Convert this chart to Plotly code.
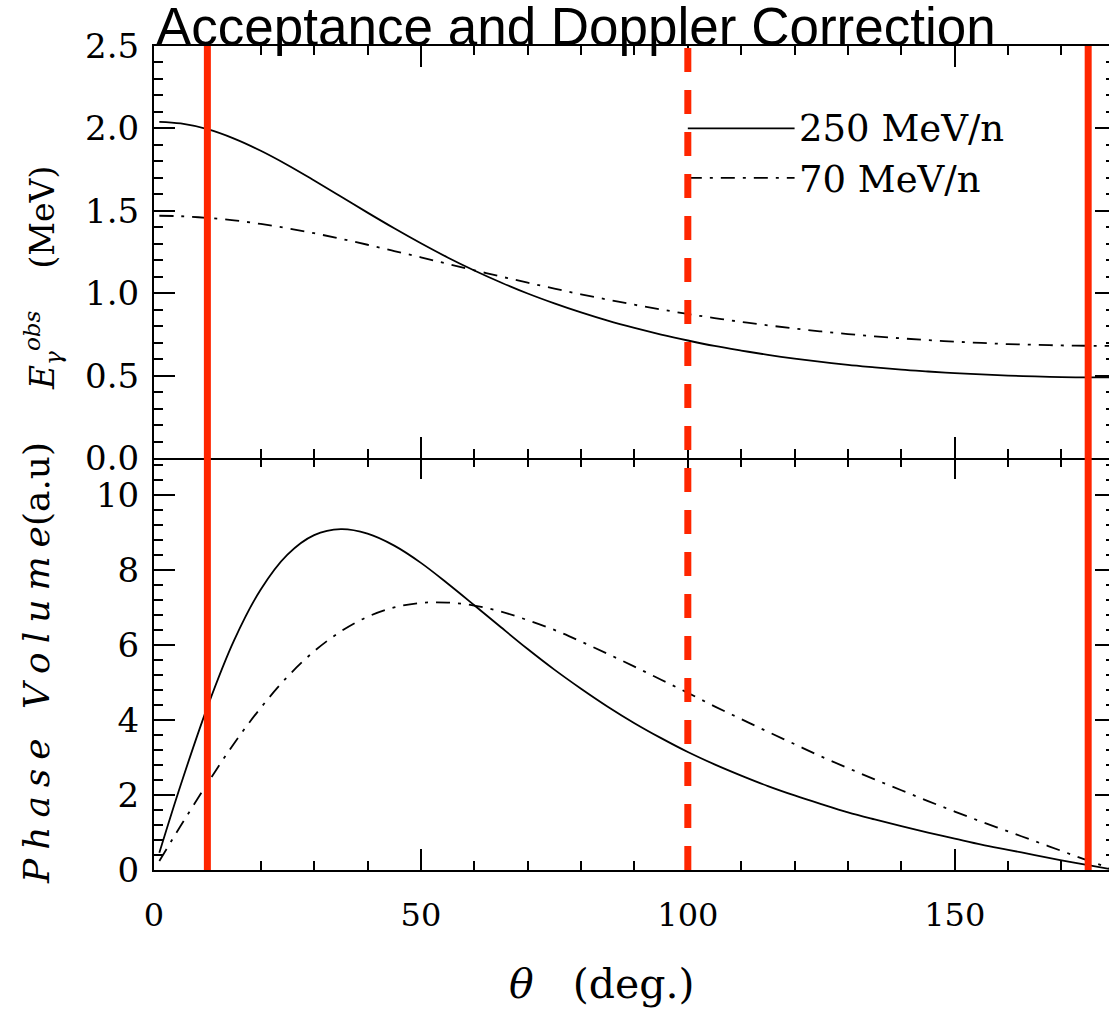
import plotly.graph_objects as go

# ---------------- data ----------------
theta = [1, 5, 10, 15, 20, 25, 30, 35, 40, 45, 50, 55, 60, 65, 70, 75, 80, 85, 90,
         95, 100, 105, 110, 115, 120, 125, 130, 135, 140, 145, 150, 155, 160, 165,
         170, 175, 180]

e_obs_250 = [2.04, 2.03, 1.995, 1.938, 1.864, 1.778, 1.684, 1.587, 1.489, 1.394, 1.303,
             1.217, 1.138, 1.065, 0.998, 0.938, 0.883, 0.833, 0.789, 0.749, 0.713, 0.680,
             0.652, 0.626, 0.603, 0.583, 0.565, 0.550, 0.536, 0.525, 0.515, 0.507, 0.500,
             0.495, 0.491, 0.489, 0.489]
e_obs_70 = [1.470, 1.467, 1.457, 1.442, 1.420, 1.394, 1.364, 1.330, 1.294, 1.256, 1.218,
            1.178, 1.139, 1.101, 1.064, 1.028, 0.993, 0.961, 0.930, 0.901, 0.874, 0.849,
            0.826, 0.805, 0.786, 0.768, 0.752, 0.738, 0.726, 0.715, 0.706, 0.698, 0.691,
            0.687, 0.683, 0.681, 0.680]

pv_250 = [0.46, 2.27, 4.35, 6.13, 7.49, 8.42, 8.94, 9.10, 8.98, 8.66, 8.20, 7.65, 7.07,
          6.48, 5.90, 5.35, 4.84, 4.36, 3.92, 3.52, 3.15, 2.82, 2.52, 2.24, 1.99, 1.76,
          1.54, 1.35, 1.17, 1.00, 0.84, 0.68, 0.54, 0.40, 0.26, 0.13, 0.0]
pv_70 = [0.24, 1.18, 2.31, 3.38, 4.33, 5.16, 5.84, 6.37, 6.76, 7.01, 7.13, 7.14, 7.06,
         6.90, 6.67, 6.41, 6.10, 5.77, 5.43, 5.08, 4.73, 4.37, 4.03, 3.69, 3.36, 3.03,
         2.72, 2.42, 2.13, 1.84, 1.56, 1.29, 1.03, 0.77, 0.51, 0.25, 0.0]

series_names = ["250 MeV/n", "70 MeV/n"]
legend_y = [2.0, 1.70]
legend_x = [100, 120.5]

acceptance_lines = [10, 100, 175]
acceptance_dash = ["solid", "24px,18px", "solid"]

x_ticks = [0, 50, 100, 150]
title_text = "Acceptance and Doppler Correction"

# ---------------- styling ----------------
SERIF = "DejaVu Serif"
RED = "rgb(255,38,0)"
DASHDOT = "14px,8px,3px,8px"
LW = 1.8
series_dash = ["solid", DASHDOT]

W, H = 1109, 1011
ML, MR, MT, MB = 154, 0, 46, 141
XMAX = 178.9
PLOT_BOTTOM = H - MB

fig = go.Figure()

top_vals = [e_obs_250, e_obs_70]
bot_vals = [pv_250, pv_70]
for i in range(2):
    fig.add_trace(go.Scatter(x=theta, y=top_vals[i], mode="lines", xaxis="x", yaxis="y",
                             line=dict(color="black", width=LW, dash=series_dash[i],
                                       shape="spline"),
                             showlegend=False, hoverinfo="skip"))
    fig.add_trace(go.Scatter(x=theta, y=bot_vals[i], mode="lines", xaxis="x2", yaxis="y2",
                             line=dict(color="black", width=LW, dash=series_dash[i],
                                       shape="spline"),
                             showlegend=False, hoverinfo="skip"))

x_minor = dict(dtick=10, tick0=0, ticks="inside", ticklen=9, tickwidth=1.5,
               tickcolor="black", showgrid=False)
common_x = dict(range=[0, XMAX], linecolor="black", linewidth=2,
                ticks="inside", ticklen=21, tickwidth=1.5, tickcolor="black",
                tickvals=x_ticks, showgrid=False, zeroline=False, minor=x_minor)

common_y = dict(showline=True, linecolor="black", linewidth=2, ticks="inside",
                ticklen=21, tickwidth=1.5, tickcolor="black", showgrid=False,
                zeroline=False, mirror=False,
                tickfont=dict(family=SERIF, size=34, color="black"),
                ticklabelstandoff=6)

right_y = dict(showline=False, ticks="inside", ticklen=14, tickwidth=1.5,
               tickcolor="black", showgrid=False, zeroline=False,
               showticklabels=False, side="right")

fig.update_layout(
    width=W, height=H,
    margin=dict(l=ML, r=MR, t=MT, b=MB),
    paper_bgcolor="white", plot_bgcolor="white",
    showlegend=False,
    # top panel: line at its bottom (middle line) and mirrored top frame
    xaxis=dict(domain=[0, 1], anchor="y", showticklabels=False, showline=True,
               mirror="ticks", **common_x),
    # bottom panel: bottom frame with labels
    xaxis2=dict(domain=[0, 1], anchor="y2", showticklabels=True, showline=True,
                mirror=False,
                tickfont=dict(family=SERIF, size=32, color="black"),
                ticklabelstandoff=16, **common_x),
    # ticks of the bottom panel hanging down from the middle line (no extra line)
    xaxis3=dict(overlaying="x2", anchor="y2", side="top", showticklabels=False,
                showline=False, **common_x),
    yaxis=dict(domain=[0.5, 1], anchor="x", range=[0, 2.5], dtick=0.5, tick0=0,
               tickformat=".1f",
               minor=dict(dtick=0.1, tick0=0, ticks="inside", ticklen=9, tickwidth=1.5,
                          tickcolor="black", showgrid=False),
               **common_y),
    yaxis2=dict(domain=[0, 0.5], anchor="x2", range=[0, 11], dtick=2, tick0=0,
                minor=dict(dtick=0.4, tick0=0, ticks="inside", ticklen=9, tickwidth=1.5,
                           tickcolor="black", showgrid=False),
                **common_y),
    yaxis3=dict(overlaying="y", anchor="x", range=[0, 2.5], dtick=0.5, tick0=0,
                minor=dict(dtick=0.1, tick0=0, ticks="inside", ticklen=3, tickwidth=1.5,
                           tickcolor="black", showgrid=False),
                **right_y),
    yaxis4=dict(overlaying="y2", anchor="x2", range=[0, 11], dtick=2, tick0=0,
                minor=dict(dtick=0.4, tick0=0, ticks="inside", ticklen=3, tickwidth=1.5,
                           tickcolor="black", showgrid=False),
                **right_y),
)

# empty traces so the overlay tick axes render
fig.add_trace(go.Scatter(x=[None], y=[None], xaxis="x", yaxis="y3", showlegend=False))
fig.add_trace(go.Scatter(x=[None], y=[None], xaxis="x2", yaxis="y4", showlegend=False))
fig.add_trace(go.Scatter(x=[None], y=[None], xaxis="x3", yaxis="y2", showlegend=False))

# legend lines (in data coordinates of the top panel)
for i in range(2):
    fig.add_shape(type="line", xref="x", yref="y", x0=legend_x[0], x1=legend_x[1] - 0.5,
                  y0=legend_y[i], y1=legend_y[i],
                  line=dict(color="black", width=LW, dash=series_dash[i]))
    fig.add_annotation(x=legend_x[1], y=legend_y[i] - (0.012 if i else 0), xref="x", yref="y",
                       text=series_names[i], showarrow=False, xanchor="left",
                       yanchor="middle",
                       font=dict(family=SERIF, size=37, color="black"))

# acceptance / red lines
for xv, d in zip(acceptance_lines, acceptance_dash):
    fig.add_shape(type="line", xref="x", yref="paper", x0=xv, x1=xv, y0=0, y1=1,
                  line=dict(color=RED, width=7, dash=d))

# title
fig.add_annotation(x=0, y=1, xref="paper", yref="paper", text=title_text,
                   showarrow=False, xanchor="left", yanchor="middle", yshift=20,
                   font=dict(family="Liberation Sans", size=53, color="black"))

# x axis title
fig.add_annotation(x=0, y=0, xref="paper", yref="paper",
                   text="<i>θ</i>\u00a0\u00a0\u00a0(deg.)", showarrow=False,
                   xanchor="center", yanchor="middle", xshift=602 - ML,
                   yshift=-(984 - PLOT_BOTTOM),
                   font=dict(family=SERIF, size=41, color="black"))

# y axis titles
fig.add_annotation(x=0, y=1, xref="paper", yref="paper",
                   text="<i>E</i><sub><i>γ</i></sub><sup><i>obs</i></sup>"
                        "\u00a0\u00a0\u00a0\u00a0(MeV)",
                   showarrow=False, textangle=-90, xanchor="center", yanchor="middle",
                   xshift=42 - ML, yshift=-(278 - MT),
                   font=dict(family=SERIF, size=33, color="black"))

sp = "\u2005"
phase = sp.join("Phase") + " " + sp + sp + sp.join("Volume")
fig.add_annotation(x=0, y=0, xref="paper", yref="paper",
                   text="<i>" + phase + "</i>(a.u)",
                   showarrow=False, textangle=-90, xanchor="center", yanchor="middle",
                   xshift=36 - ML, yshift=PLOT_BOTTOM - 663,
                   font=dict(family=SERIF, size=36, color="black"))

fig.write_html("out.html")
